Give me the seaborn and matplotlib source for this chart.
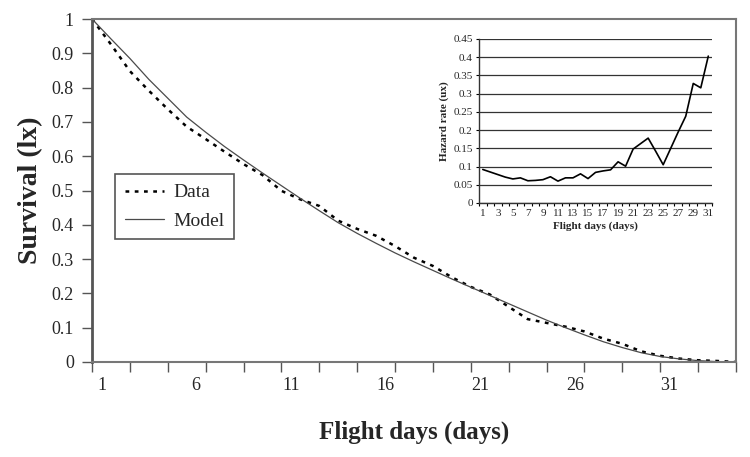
import numpy as np
import pandas as pd
import matplotlib
matplotlib.use("Agg")
import matplotlib.pyplot as plt
import seaborn as sns

# survival curve, one value per category boundary (day index 0..34)
days = list(range(0, 35))
survival_data = [1.000, 0.926, 0.848, 0.791, 0.737, 0.686, 0.650, 0.613, 0.577,
                 0.545, 0.499, 0.474, 0.455, 0.412, 0.388, 0.368, 0.338, 0.304,
                 0.280, 0.247, 0.219, 0.197, 0.161, 0.125, 0.114, 0.103, 0.089,
                 0.068, 0.053, 0.031, 0.018, 0.010, 0.005, 0.003, 0.000]
survival_model = [1.000, 0.942, 0.885, 0.824, 0.769, 0.714, 0.670, 0.628, 0.589,
                  0.551, 0.514, 0.477, 0.441, 0.406, 0.375, 0.346, 0.318, 0.292,
                  0.267, 0.242, 0.218, 0.194, 0.170, 0.146, 0.122, 0.100, 0.079,
                  0.059, 0.042, 0.027, 0.016, 0.009, 0.004, 0.001, 0.000]
main_tick_days = [1, 6, 11, 16, 21, 26, 31]

# inset: hazard rate per flight day
inset_days = list(range(1, 32))
hazard_rate = [0.092, 0.085, 0.078, 0.071, 0.066, 0.069, 0.061, 0.062, 0.064,
               0.072, 0.060, 0.069, 0.069, 0.080, 0.067, 0.084, 0.088, 0.091,
               0.113, 0.101, 0.148, 0.163, 0.178, 0.142, 0.105, 0.150, 0.195,
               0.238, 0.328, 0.316, 0.403]

sns.set_style("white")
plt.rcParams['font.family'] = ['Liberation Serif', 'DejaVu Serif']

main_df = pd.DataFrame({"day": days, "Data": survival_data, "Model": survival_model})
hazard_df = pd.DataFrame({"day": inset_days, "hazard": hazard_rate})

fig = plt.figure(figsize=(7.5, 4.57), dpi=100)
ax = fig.add_axes([0.1227, 0.2079, 0.8586, 0.7505])

sns.lineplot(data=main_df, x="day", y="Data", ax=ax, color="black",
             linewidth=1.8, linestyle=(0, (1.5, 2.2)), label="Data")
sns.lineplot(data=main_df, x="day", y="Model", ax=ax, color="#4a4a4a",
             linewidth=0.9, label="Model")

ax.set_xlim(0, 34)
ax.set_ylim(0, 1)
ax.set_yticks(np.arange(0, 1.01, 0.1))
ax.set_yticklabels(["0"] + [f"{v:.1f}" for v in np.arange(0.1, 0.95, 0.1)] + ["1"])
ax.set_xticks([d - 0.5 for d in main_tick_days])
ax.set_xticklabels([str(d) for d in main_tick_days])
ax.set_xticks(range(0, 35, 2), minor=True)
ax.tick_params(axis="x", which="major", length=0, pad=11, labelsize=13)
ax.tick_params(axis="x", which="minor", length=7, width=1, color="#555555",
               direction="out", bottom=True)
ax.tick_params(axis="y", length=7, width=1, color="#555555", direction="out",
               left=True, labelsize=13, pad=6)

for side in ["top", "right", "bottom"]:
    ax.spines[side].set_color("#777777")
    ax.spines[side].set_linewidth(1.5)
ax.spines["left"].set_color("#555555")
ax.spines["left"].set_linewidth(2)

ax.set_xlabel("Flight days (days)", fontsize=18, fontweight="bold")
ax.xaxis.set_label_coords(0.5, -0.17)
ax.set_ylabel("Survival (lx)", fontsize=20, fontweight="bold")
ax.yaxis.set_label_coords(-0.076, 0.5)

leg = ax.legend(loc="upper left", bbox_to_anchor=(0.036, 0.548), borderaxespad=0,
                fontsize=14, frameon=True, fancybox=False, edgecolor="#555555",
                framealpha=1, handlelength=2.0, borderpad=0.5, labelspacing=0.55,
                handletextpad=0.5)
leg.get_frame().set_linewidth(1.2)

# inset hazard chart
inset = fig.add_axes([0.6387, 0.5558, 0.3107, 0.3589])
inset.set_facecolor("white")
sns.lineplot(data=hazard_df, x="day", y="hazard", ax=inset, color="black", linewidth=1.2)
inset.set_xlim(0.5, 31.5)
inset.set_ylim(0, 0.45)
inset.set_yticks(np.arange(0, 0.451, 0.05))
inset.set_yticklabels(["0"] + [f"{v:g}" for v in np.round(np.arange(0.05, 0.451, 0.05), 2)])
inset.set_xticks(range(1, 32, 2))
inset.set_xticks(np.arange(0.5, 32, 1), minor=True)
inset.tick_params(axis="x", which="major", length=0, labelsize=8, pad=4)
inset.tick_params(axis="x", which="minor", length=2.5, width=0.8, direction="out",
                  bottom=True, color="black")
inset.tick_params(axis="y", length=2.5, width=0.8, direction="out", left=True,
                  labelsize=8, pad=2, color="black")
inset.grid(axis="y", color="#333333", linewidth=0.9)
inset.set_axisbelow(True)
for side in ["top", "right"]:
    inset.spines[side].set_visible(False)
for side in ["left", "bottom"]:
    inset.spines[side].set_color("#333333")
    inset.spines[side].set_linewidth(1)
inset.set_xlabel("Flight days (days)", fontsize=8, fontweight="bold", labelpad=3)
inset.set_ylabel("Hazard rate (ux)", fontsize=8, fontweight="bold", labelpad=3)

fig.savefig("out.png", dpi=100)
